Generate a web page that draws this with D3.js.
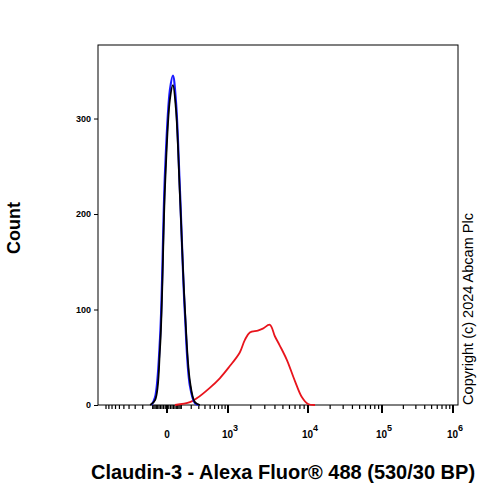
<!DOCTYPE html>
<html><head><meta charset="utf-8">
<script src="https://cdn.jsdelivr.net/npm/d3@7"></script>
<style>body{margin:0;background:#fff}text{font-family:Arial,"Liberation Sans",sans-serif}</style>
</head><body><svg id="c" width="500" height="500"></svg>
<script>
// fluorescence intensity, count
const blackSeries = [[-123,0],[-80,5],[-43,60],[-11,230],[17,320],[36,335],[57,310],[88,220],[133,100],[185,25],[245,3],[316,0]];
const blueSeries  = [[-110,0],[-80,8],[-43,70],[-11,245],[17,330],[36,345],[57,318],[88,225],[133,95],[185,20],[245,2],[300,0]];
const redSeries   = [[50,0],[185,3],[270,7],[493,18],[736,28],[1040,40],[1441,55],[1674,68],[1944,76],[2455,78],[2837,80],[3466,84],[3991,72],[4597,62],[5591,47],[6984,25],[8474,8],[10000,1],[12460,0]];
const yTicks = [0,100,200,300];
const xMajor = [0,1e3,1e4,1e5,1e6];
const xLabels = ["0","10^3","10^4","10^5","10^6"];

const svg = d3.select("#c");
const L=98,R=458,T=45,B=405;
// biexponential-like display: symlog transform, then piecewise linear per decade
const t = d3.scaleSymlog().constant(180).domain([0,1e6]).range([0,1]);
const px = d3.scaleLinear().domain(xMajor.map(v=>t(v))).range([167,228,308,382,453]);
const x = v => px(t(v));
const y = d3.scaleLinear().domain([0,377]).range([B,T]);

svg.append("rect").attr("x",L).attr("y",T).attr("width",R-L).attr("height",B-T)
  .attr("fill","none").attr("stroke","#000").attr("stroke-width",1);

// y axis
svg.append("g").attr("transform",`translate(${L},0)`)
  .call(d3.axisLeft(y).tickValues(yTicks).tickSize(4).tickFormat(d3.format("d")))
  .call(g=>g.select(".domain").remove())
  .call(g=>g.selectAll("text").attr("font-size",9).attr("font-weight","bold"));

// x minor ticks
const minor=[];
for(let d=100; d<1e6; d*=10) for(let k=1;k<10;k++){ minor.push(k*d); }
for(let k=1;k<10;k++){ minor.push(k*10); minor.push(-k*10); minor.push(-k*100); }
minor.push(-1000);
const gx = svg.append("g");
gx.selectAll("line.mn").data(minor.filter(v=>x(v)>=L&&x(v)<=R)).join("line")
  .attr("x1",d=>x(d)).attr("x2",d=>x(d)).attr("y1",B).attr("y2",B+4)
  .attr("stroke","#000").attr("stroke-width",1.2);
gx.selectAll("line.mj").data(xMajor).join("line")
  .attr("x1",d=>x(d)).attr("x2",d=>x(d)).attr("y1",B).attr("y2",B+8)
  .attr("stroke","#000").attr("stroke-width",2);
xMajor.forEach((v,i)=>{
  const tx=gx.append("text").attr("x",x(v)+(i?2:0)).attr("y",B+33).attr("text-anchor","middle")
    .attr("font-size",10).attr("font-weight","bold");
  const s=xLabels[i].split("^");
  tx.append("tspan").text(s[0]);
  if(s[1]) tx.append("tspan").attr("dy",-7).attr("font-size",9).text(s[1]);
});

const line = d3.line().x(d=>x(d[0])).y(d=>y(d[1])).curve(d3.curveCatmullRom);
svg.append("path").datum(redSeries).attr("d",line).attr("fill","none").attr("stroke","#e8141c").attr("stroke-width",1.8);
svg.append("path").datum(blueSeries).attr("d",line).attr("fill","none").attr("stroke","#1a1aff").attr("stroke-width",2.2);
svg.append("path").datum(blackSeries).attr("d",line).attr("fill","none").attr("stroke","#000").attr("stroke-width",1.8);

svg.append("text").attr("transform","translate(20,228) rotate(-90)").attr("text-anchor","middle")
  .attr("font-size",18).attr("font-weight","bold").text("Count");
svg.append("text").attr("x",283).attr("y",479).attr("text-anchor","middle")
  .attr("font-size",20).attr("font-weight","bold").text("Claudin-3 - Alexa Fluor® 488 (530/30 BP)");
svg.append("text").attr("transform","translate(473,309) rotate(-90)").attr("text-anchor","middle")
  .attr("font-size",14.5).text("Copyright (c) 2024 Abcam Plc");
</script></body></html>
